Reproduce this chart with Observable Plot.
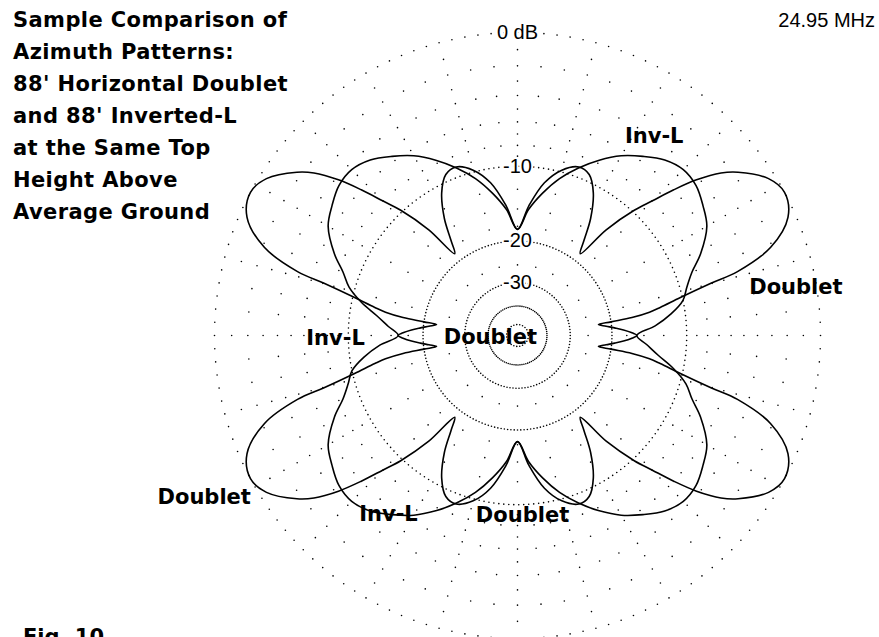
<!DOCTYPE html>
<html><head><meta charset="utf-8">
<script src="https://cdn.jsdelivr.net/npm/d3@7"></script>
<script src="https://cdn.jsdelivr.net/npm/@observablehq/plot@0.6"></script>
<style>
html,body{margin:0;padding:0;background:#fff;}
#wrap{position:relative;width:879px;height:637px;overflow:hidden;background:#fff;}
#wrap svg{position:absolute;left:0;top:0;}
.title{position:absolute;left:13px;top:4px;font-family:"DejaVu Sans",sans-serif;font-weight:bold;font-size:21px;letter-spacing:0.4px;line-height:32px;color:#000;white-space:pre;}
.freq{position:absolute;right:4px;top:9px;font-family:"Liberation Sans",Arial,sans-serif;font-size:20px;color:#000;}
.fig{position:absolute;left:23px;top:625px;font-family:"DejaVu Sans",sans-serif;font-weight:bold;font-size:21px;color:#000;}
</style></head>
<body><div id="wrap"></div>
<script>
// ---- text ----
const titleLines = ["Sample Comparison of","Azimuth Patterns:","88' Horizontal Doublet","and 88' Inverted-L","at the Same Top","Height Above","Average Ground"];
const freqLabel = "24.95 MHz";
const figLabel = "Fig. 10";

// ---- grid ----
const ringDb = [0, -10, -20, -30, -40, -57];
const ringLabelDb = [0, -10, -20, -30];
const ringLabelText = ["0 dB", "-10", "-20", "-30"];
const spokeAz = d3.range(0, 360, 5);
const spokeDbMajor = [-1,-2,-3,-4,-5,-6,-7,-8,-9,-12.5,-15,-17.5,-25];
const spokeDbMinor = [-2,-4,-6,-8];

// ---- Doublet pattern (azimuth deg, dB) ----
const doubletAz = [
 0,1.5,3,4.5,6,7.7,8.3,8.9,10,11.1,13.1,15.1,16.2,19.2,23.6,28.2,32,36.5,38.6,41,43,45,47,50,52.5,55,58,62,66,70,75,80,85,
 90,95,100,105,110,114,118,122,125,127.5,130,133,135,137,139,141.4,143.5,148,151.8,156.4,160.8,163.8,164.9,166.9,168.9,170,171.1,171.7,172.3,174,175.5,177,178.5,
 180,181.5,183,184.5,186,187.7,188.3,188.9,190,191.1,193.1,195.1,196.2,199.2,203.6,208.2,212,216.5,218.6,221,223,225,227,230,232.5,235,238,242,246,250,255,260,265,
 270,275,280,285,290,294,298,302,305,307.5,310,313,315,317,319,321.4,323.5,328,331.8,336.4,340.8,343.8,344.9,346.9,348.9,350,351.1,351.7,352.3,354,355.5,357,358.5];
const doubletDb = [
 -16,-16.8,-18,-19.5,-21,-22.5,-20,-16.5,-14,-12.6,-10.2,-7.1,-4.8,-2.1,-0.45,0,-0.4,-1.7,-2.6,-4.2,-6,-8,-9.8,-13.5,-18.5,-16.5,-13.5,-10.8,-9.3,-9,-9.8,-11.5,-14.5,
 -18,-14.5,-11.5,-9.8,-9,-9.3,-10.8,-13.5,-16.5,-18.5,-13.5,-9.8,-8,-6,-4.2,-2.6,-1.7,-0.4,0,-0.45,-2.1,-4.8,-7.1,-10.2,-12.6,-14,-16.5,-20,-22.5,-21,-19.5,-18,-16.8,
 -16,-16.8,-18,-19.5,-21,-22.5,-20,-16.5,-14,-12.6,-10.2,-7.1,-4.8,-2.1,-0.45,0,-0.4,-1.7,-2.6,-4.2,-6,-8,-9.8,-13.5,-18.5,-16.5,-13.5,-10.8,-9.3,-9,-9.8,-11.5,-14.5,
 -18,-14.5,-11.5,-9.8,-9,-9.3,-10.8,-13.5,-16.5,-18.5,-13.5,-9.8,-8,-6,-4.2,-2.6,-1.7,-0.4,0,-0.45,-2.1,-4.8,-7.1,-10.2,-12.6,-14,-16.5,-20,-22.5,-21,-19.5,-18,-16.8];

// ---- Inverted-L pattern (azimuth deg, dB) ----
const invLAz = [
 0,4,8,12,16,20,24,30,35,40,45,50,55,60,65,70,75,80,85,
 90,95,100,105,110,115,120,125,130,135,140,145,150,156,160,164,168,172,176,
 180,184,188,192,196,200,204,210,215,220,225,230,235,240,245,250,255,260,265,
 270,275,280,285,290,295,300,305,310,315,320,325,330,336,340,344,348,352,356];
const invLDb = [
 -16,-13.5,-11.5,-10,-9.3,-8.4,-7.1,-5.6,-5,-4.5,-4.4,-4.8,-5.6,-6.5,-7.7,-9.1,-10.7,-12.7,-15,
 -18,-15,-12.7,-10.7,-9.1,-7.7,-6.5,-5.6,-4.8,-4.4,-4.5,-5,-5.6,-7.1,-8.4,-9.4,-11,-13,-14.6,
 -16,-13.5,-11.5,-10,-9.3,-8.4,-7.1,-5.6,-5,-4.5,-4.4,-4.8,-5.6,-6.5,-7.7,-9.1,-10.7,-12.7,-15,
 -18,-15,-12.7,-10.7,-9.1,-7.7,-6.5,-5.6,-4.8,-4.4,-4.5,-5,-5.6,-7.1,-8.4,-9.4,-11,-13,-14.6];

// ---- curve labels ----
const curveLabelText = ["Inv-L","Doublet","Inv-L","Doublet","Doublet","Inv-L","Doublet"];
const curveLabelAz   = [55.5, 9.8, 180.9, 184.2, 207.3, 234.2, 271.6];
const curveLabelDb   = [-3.9, -1.2, -8.75, -41.4, 2.6, -5.45, -9.0];

// ---- geometry helpers (ARRL log-periodic scale) ----
const rad = db => Math.pow(0.89, -db / 2);
const polar = (az, db) => { const r = rad(db), t = az * Math.PI / 180; return {x: r * Math.cos(t), y: r * Math.sin(t)}; };

const cx = 517, cy = 335, R = 303;

// grid dots
const ringPx = {"0": 13.2, "-10": 5, "-20": 3.3, "-30": 3, "-40": 2, "-57": 3};
const gridDots = [];
ringDb.forEach(db => {
  const rp = rad(db) * R;
  const n = Math.round(2 * Math.PI * rp / ringPx[String(db)]);
  for (let i = 0; i < n; i++) gridDots.push(polar(i * 360 / n, db));
});
spokeAz.forEach(a => {
  const lv = (a % 15 === 0) ? spokeDbMajor : spokeDbMinor;
  lv.forEach(db => gridDots.push(polar(a, db)));
});

const doublet = doubletAz.map((a, i) => polar(a, doubletDb[i]));
const invL = invLAz.map((a, i) => polar(a, invLDb[i]));
const ringLabels = ringLabelDb.map((db, i) => ({...polar(90, db), text: ringLabelText[i]}));
const curveLabels = curveLabelText.map((t, i) => ({...polar(curveLabelAz[i], curveLabelDb[i]), text: t}));

const chart = Plot.plot({
  width: 879, height: 637, margin: 0,
  style: {background: "white"},
  x: {domain: [-1, 1], range: [cx - R, cx + R], axis: null},
  y: {domain: [-1, 1], range: [cy + R, cy - R], axis: null},
  marks: [
    Plot.dot(gridDots, {x: "x", y: "y", r: 0.8, fill: "#000", stroke: null}),
    Plot.text(ringLabels, {x: "x", y: "y", text: "text", fontFamily: "Liberation Sans, Arial, sans-serif", fontSize: 20, fill: "#000", stroke: "white", strokeWidth: 4, paintOrder: "stroke"}),
    Plot.line(doublet, {x: "x", y: "y", curve: "catmull-rom-closed", stroke: "#000", strokeWidth: 1.6}),
    Plot.line(invL, {x: "x", y: "y", curve: "catmull-rom-closed", stroke: "#000", strokeWidth: 1.6}),
    Plot.text(curveLabels, {x: "x", y: "y", text: "text", fontFamily: "DejaVu Sans, sans-serif", fontWeight: "bold", fontSize: 21, fill: "#000"})
  ]
});

const wrap = document.getElementById("wrap");
wrap.appendChild(chart);
const t = document.createElement("div"); t.className = "title"; t.textContent = titleLines.join("\n"); wrap.appendChild(t);
const f = document.createElement("div"); f.className = "freq"; f.textContent = freqLabel; wrap.appendChild(f);
const g = document.createElement("div"); g.className = "fig"; g.textContent = figLabel; wrap.appendChild(g);
</script></body></html>
